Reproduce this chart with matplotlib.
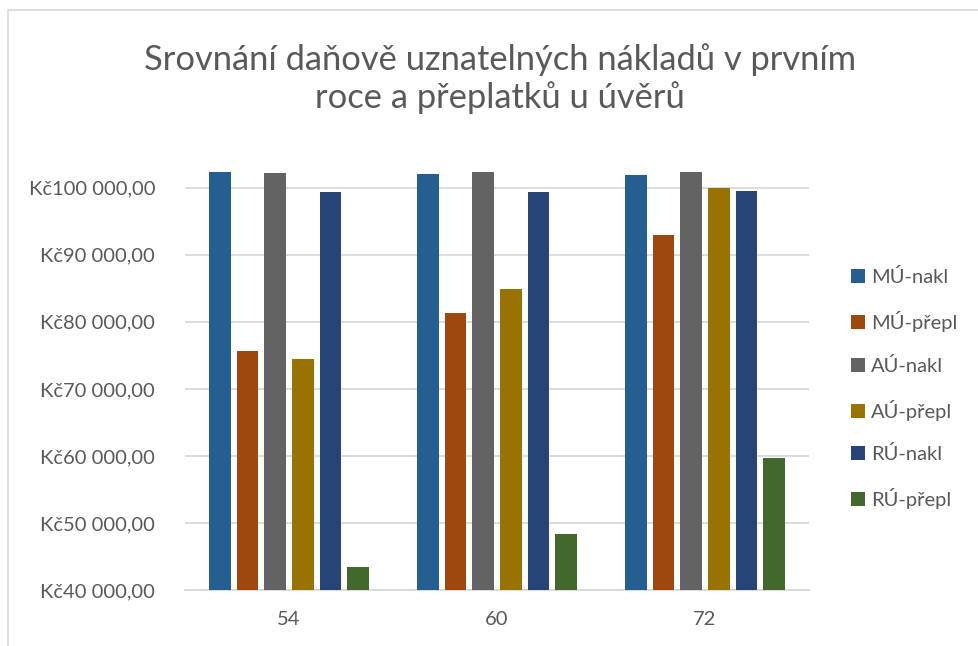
import matplotlib.pyplot as plt
import matplotlib.patches as mpatches
from matplotlib.ticker import FuncFormatter
import numpy as np

plt.rcParams['font.family'] = ['Lato', 'DejaVu Sans']

# Data
categories = ['54', '60', '72']
series_names = ['MÚ-nakl', 'MÚ-přepl', 'AÚ-nakl', 'AÚ-přepl', 'RÚ-nakl', 'RÚ-přepl']
mu_nakl = [102300, 102090, 101850]
mu_prepl = [75590, 81340, 92950]
au_nakl = [102190, 102390, 102290]
au_prepl = [74400, 84830, 99900]
ru_nakl = [99310, 99360, 99460]
ru_prepl = [43440, 48420, 59700]
series_values = [mu_nakl, mu_prepl, au_nakl, au_prepl, ru_nakl, ru_prepl]
colors = ['#255E91', '#9E480E', '#636363', '#997300', '#264478', '#43682B']

text_color = '#595959'
grid_color = '#d9d9d9'

fig = plt.figure(figsize=(9.79, 6.46), dpi=100)
ax = fig.add_axes([0.189, 0.0862, 0.6374, 0.6754])

# outer chart frame (partially cropped in the original)
frame = mpatches.Rectangle((8 / 979, -0.2), 1.5, 1.2 - 10 / 646, transform=fig.transFigure,
                           fill=False, edgecolor=grid_color, linewidth=1.2)
fig.patches.append(frame)

x = np.arange(len(categories))
pitch = 0.1332
width = 0.104
for i, (name, vals, c) in enumerate(zip(series_names, series_values, colors)):
    offs = (i - 2.5) * pitch
    ax.bar(x + offs, vals, width=width, color=c, label=name, zorder=3)

ax.set_xlim(-0.5, 2.5)
ax.set_ylim(40000, 105000)
ax.set_yticks(np.arange(40000, 100001, 10000))
ax.yaxis.set_major_formatter(FuncFormatter(
    lambda v, p: 'Kč' + f'{v:,.2f}'.replace(',', ' ').replace('.', ',')))
ax.set_xticks(x)
ax.set_xticklabels(categories)

ax.grid(axis='y', color=grid_color, linewidth=1.3, zorder=0)
for s in ['top', 'right', 'left']:
    ax.spines[s].set_visible(False)
ax.spines['bottom'].set_color(grid_color)
ax.spines['bottom'].set_linewidth(1.3)
ax.tick_params(axis='both', length=0, labelsize=14.5, colors=text_color)
ax.tick_params(axis='y', pad=21.5)
ax.tick_params(axis='x', pad=15)

fig.text(0.511, 0.8785, 'Srovnání daňově uznatelných nákladů v prvním\nroce a přeplatků u úvěrů',
         ha='center', va='center', fontsize=24.8, color=text_color, linespacing=1.2)

leg = ax.legend(loc='center left', bbox_to_anchor=(1.054, 0.462), frameon=False,
                fontsize=14.5, labelcolor=text_color, handlelength=0.7, handleheight=0.7,
                handletextpad=0.3, labelspacing=1.23, borderaxespad=0)

fig.savefig('out.png', dpi=100)
